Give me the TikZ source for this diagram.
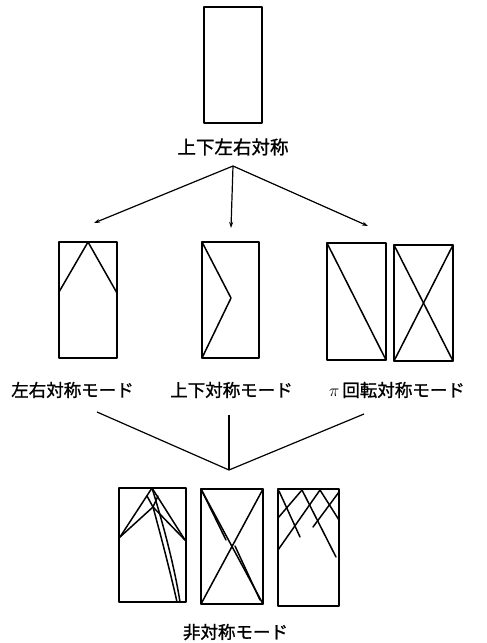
\documentclass[tikz,border=0pt]{standalone}
\usepackage{fontspec}
\newfontfamily\jp[FakeBold=1.2]{Noto Sans CJK JP}
\usetikzlibrary{arrows.meta}
\begin{document}
\begin{tikzpicture}[x=1pt,y=-1pt,
  panel/.style={draw,line width=1.6pt,inner sep=0pt,line join=round},
  mode/.style={line width=1.5pt,line cap=round,line join=round},
  lbl/.style={font=\jp\fontsize{17.5}{18}\selectfont,inner sep=0pt},
  conn/.style={line width=1.2pt},
  arr/.style={conn,-{Stealth[length=6pt,width=4pt]}}]
\useasboundingbox (0,0) rectangle (487,643);
% top
\node[panel,minimum width=58pt,minimum height=116pt] (top) at (233,65) {};
\node[lbl,font=\jp\fontsize{18.5}{19}\selectfont] (ltop) at (233,147) {上下左右対称};
\coordinate (split) at (233,166);
\coordinate (t1) at (94,223);
\coordinate (t2) at (231,228);
\coordinate (t3) at (368,226);
\draw[arr] (split) -- (t1);
\draw[arr] (split) -- (t2);
\draw[arr] (split) -- (t3);
% middle row
\node[panel,minimum width=58pt,minimum height=116pt] (m1) at (88,300) {};
\node[panel,minimum width=57pt,minimum height=116pt] (m2) at (230.5,300) {};
\node[panel,minimum width=59pt,minimum height=117pt] (m3a) at (356.5,301.5) {};
\node[panel,minimum width=59pt,minimum height=116pt] (m3b) at (423.5,303) {};
\draw[mode] (59,292) -- (88,242) -- (117,293);
\draw[mode] (202,242) -- (231,298) -- (202,358);
\draw[mode] (327,243) -- (386,360);
\draw[mode] (394,245) -- (453,361);
\draw[mode] (394,361) -- (453,245);
\node[lbl] (l1) at (72.5,390) {左右対称モード};
\node[lbl] (l2) at (231.5,390) {上下対称モード};
\node[lbl] (l3) at (397,390) {$\pi$\,回転対称モード};
% converging
\coordinate (c1) at (97,412);
\coordinate (c2) at (229,415);
\coordinate (c3) at (364,414);
\coordinate (join) at (229,470);
\draw[conn] (c1) -- (join) -- (c3);
\draw[conn] (c2) -- (join);
% bottom row
\node[panel,minimum width=67pt,minimum height=114pt] (b1) at (152.5,545) {};
\node[panel,minimum width=62pt,minimum height=115pt] (b2) at (232,546.5) {};
\node[panel,minimum width=61pt,minimum height=117pt] (b3) at (308.5,547.5) {};
% b1
\draw[mode] (120,537) -- (152,488) -- (185,540);
\draw[mode] (120,537) -- (153,507) -- (185,540);
\draw[mode] (147,496) -- (153,507) -- (158,496);
\draw[mode] (152,488) .. controls (165,530) and (175,570) .. (180,602);
\draw[mode] (153,507) .. controls (162,540) and (171,575) .. (177,602);
% b2
\draw[mode] (201,489) -- (263,604);
\draw[mode] (201,604) -- (263,489);
\draw[mode] (201,489) -- (226,540);
\draw[mode] (235,546) -- (260,600);
% b3
\draw[mode] (279,491) -- (300,537);
\draw[mode] (302,490) -- (278,518);
\draw[mode] (302,490) -- (336,557);
\draw[mode] (320,490) -- (278,550);
\draw[mode] (320,490) -- (339,520);
\draw[mode] (339,492) -- (313,527);
\node[lbl] (lb) at (235.5,632) {非対称モード};
\end{tikzpicture}
\end{document}
